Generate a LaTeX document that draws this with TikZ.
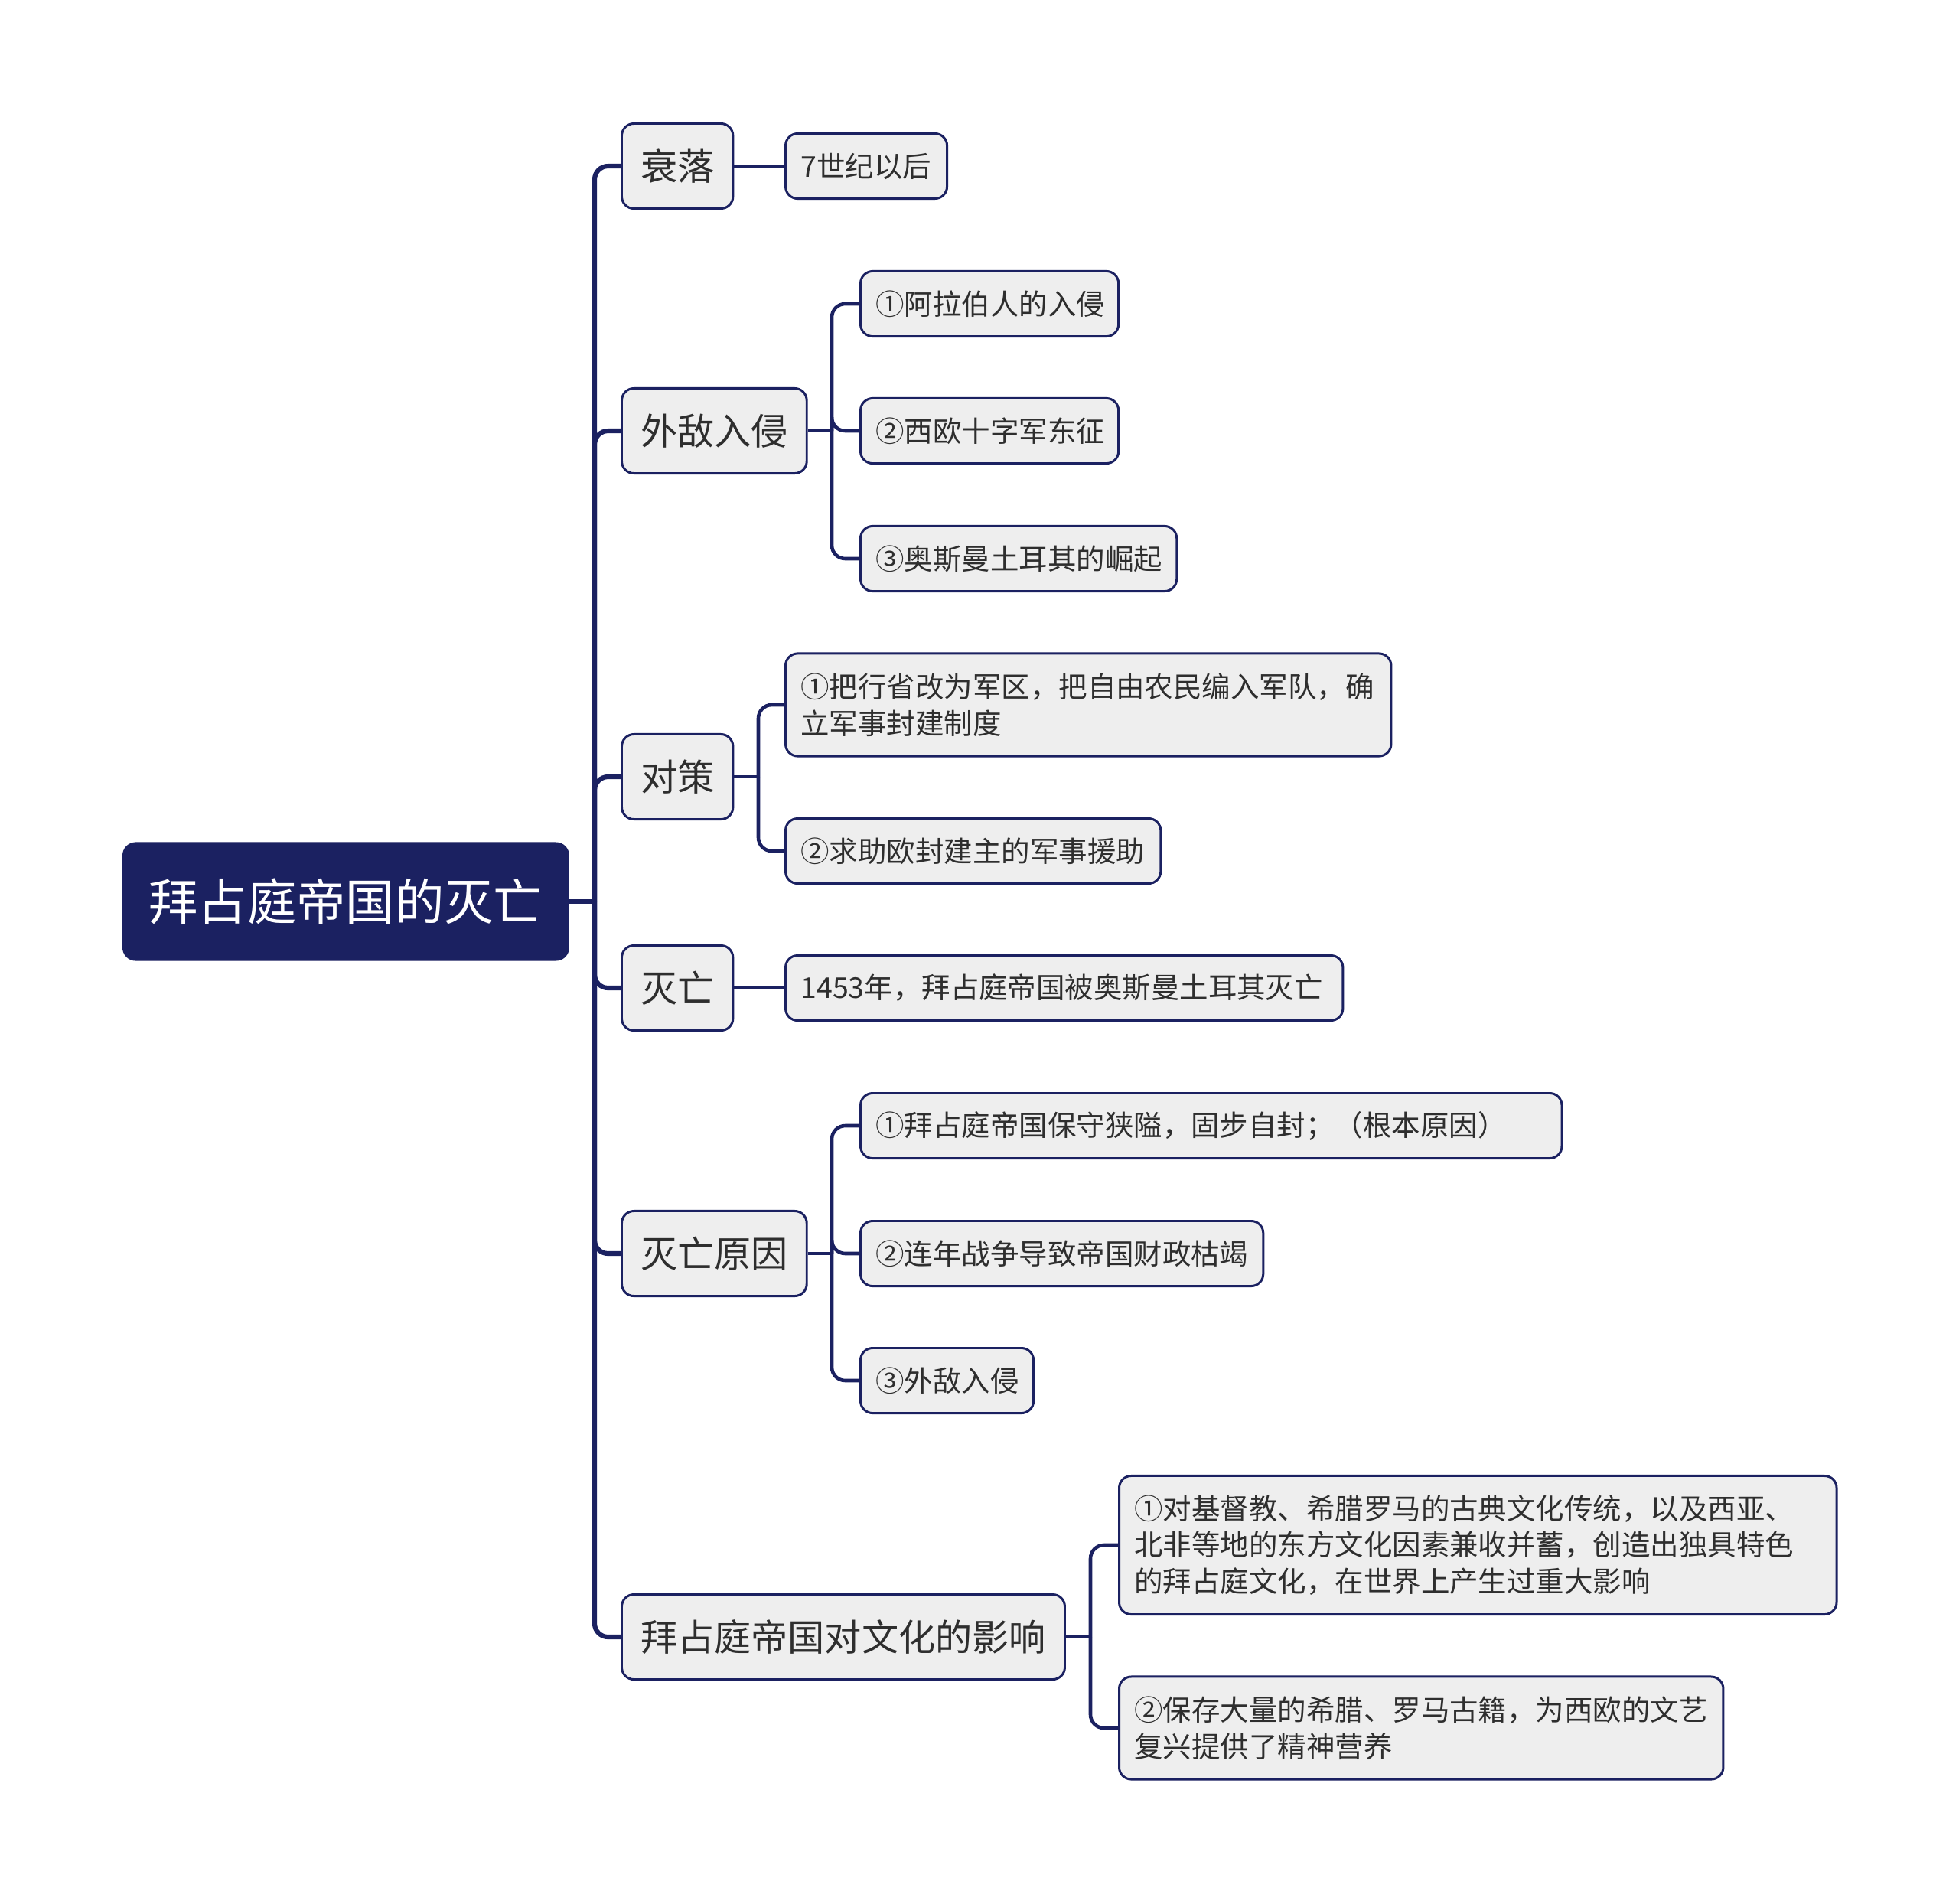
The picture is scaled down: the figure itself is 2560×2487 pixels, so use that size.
\documentclass[tikz,border=0pt]{standalone}
\usepackage{fontspec}
\setmainfont{Noto Sans CJK SC}
\definecolor{navy}{HTML}{1B2161}
\definecolor{boxfill}{HTML}{EEEEEE}
\definecolor{txt}{HTML}{2E2E2E}
\tikzset{
  rootbox/.style={fill=navy, draw=navy, line width=0.85pt, rounded corners=4.5pt, text=white,
    font=\fontsize{18.3}{22}\selectfont, minimum height=1.52cm, inner xsep=0.33cm, anchor=west},
  lonebox/.style={fill=boxfill, draw=navy, line width=0.85pt, rounded corners=4.5pt, text=txt,
    font=\fontsize{13.7}{17}\selectfont, minimum height=1.11cm, inner xsep=0.245cm, anchor=west},
  leafbox/.style={fill=boxfill, draw=navy, line width=0.85pt, rounded corners=4.5pt, text=txt,
    font=\fontsize{10.65}{13.5}\selectfont, minimum height=0.85cm, inner xsep=0.2cm, inner ysep=2pt,
    align=left, anchor=west},
  trunkline/.style={draw=navy, line width=1.75pt, rounded corners=5pt},
  subline/.style={draw=navy, line width=1.3pt, rounded corners=5pt},
}
\begin{document}
\begin{tikzpicture}[x=0.01cm,y=-0.01cm]
\useasboundingbox (0,0) rectangle (2560,2487);
% root
\node[rootbox] (root) at (160,1178) {拜占庭帝国的灭亡};
% level 1
\node[lonebox] (A) at (811,217) {衰落};
\node[lonebox] (B) at (811,563) {外敌入侵};
\node[lonebox] (C) at (811,1015) {对策};
\node[lonebox] (D) at (811,1291) {灭亡};
\node[lonebox] (E) at (811,1638) {灭亡原因};
\node[lonebox] (F) at (811,2139) {拜占庭帝国对文化的影响};
% leaves
\node[leafbox, text width=1.71cm] (A1) at (1025,217) {7世纪以后};
\node[leafbox, text width=2.97cm] (B1) at (1123,397) {①阿拉伯人的入侵};
\node[leafbox, text width=2.97cm] (B2) at (1123,563) {②西欧十字军东征};
\node[leafbox, text width=3.73cm] (B3) at (1123,730) {③奥斯曼土耳其的崛起};
\node[leafbox, text width=7.51cm, minimum height=1.34cm] (C1) at (1025,921) {①把行省改为军区，把自由农民编入军队，确\\立军事封建制度};
\node[leafbox, text width=4.50cm] (C2) at (1025,1112) {②求助欧封建主的军事援助};
\node[leafbox, text width=6.88cm] (D1) at (1025,1291) {1453年，拜占庭帝国被奥斯曼土耳其灭亡};
\node[leafbox, text width=8.76cm] (E1) at (1123,1471) {①拜占庭帝国保守狭隘，固步自封；（根本原因）};
\node[leafbox, text width=4.86cm] (E2) at (1123,1638) {②连年战争导致帝国财政枯竭};
\node[leafbox, text width=1.86cm] (E3) at (1123,1804) {③外敌入侵};
\node[leafbox, text width=8.97cm, minimum height=1.81cm] (F1) at (1461,2019) {①对基督教、希腊罗马的古典文化传统，以及西亚、\\北非等地的东方文化因素兼收并蓄，创造出独具特色\\的拜占庭文化，在世界上产生过重大影响};
\node[leafbox, text width=7.49cm, minimum height=1.34cm] (F2) at (1461,2258) {②保存大量的希腊、罗马古籍，为西欧的文艺\\复兴提供了精神营养};
% junctions
\coordinate (tj) at (777,1178);
\coordinate (jB) at (1087,563);
\coordinate (jC) at (991,1015);
\coordinate (jE) at (1087,1638);
\coordinate (jF) at (1425,2139);
% trunk connectors
\draw[trunkline] (root.east) -- (tj);
\foreach \n in {A,B,C,D,E,F} { \draw[trunkline] (tj) |- (\n.west); }
% sub connectors
\draw[subline] (A.east) -- (A1.west);
\draw[subline] (D.east) -- (D1.west);
\draw[subline] (B.east) -- (jB);
\foreach \n in {B1,B2,B3} { \draw[subline] (jB) |- (\n.west); }
\draw[subline] (C.east) -- (jC);
\foreach \n in {C1,C2} { \draw[subline] (jC) |- (\n.west); }
\draw[subline] (E.east) -- (jE);
\foreach \n in {E1,E2,E3} { \draw[subline] (jE) |- (\n.west); }
\draw[subline] (F.east) -- (jF);
\foreach \n in {F1,F2} { \draw[subline] (jF) |- (\n.west); }
\end{tikzpicture}
\end{document}
